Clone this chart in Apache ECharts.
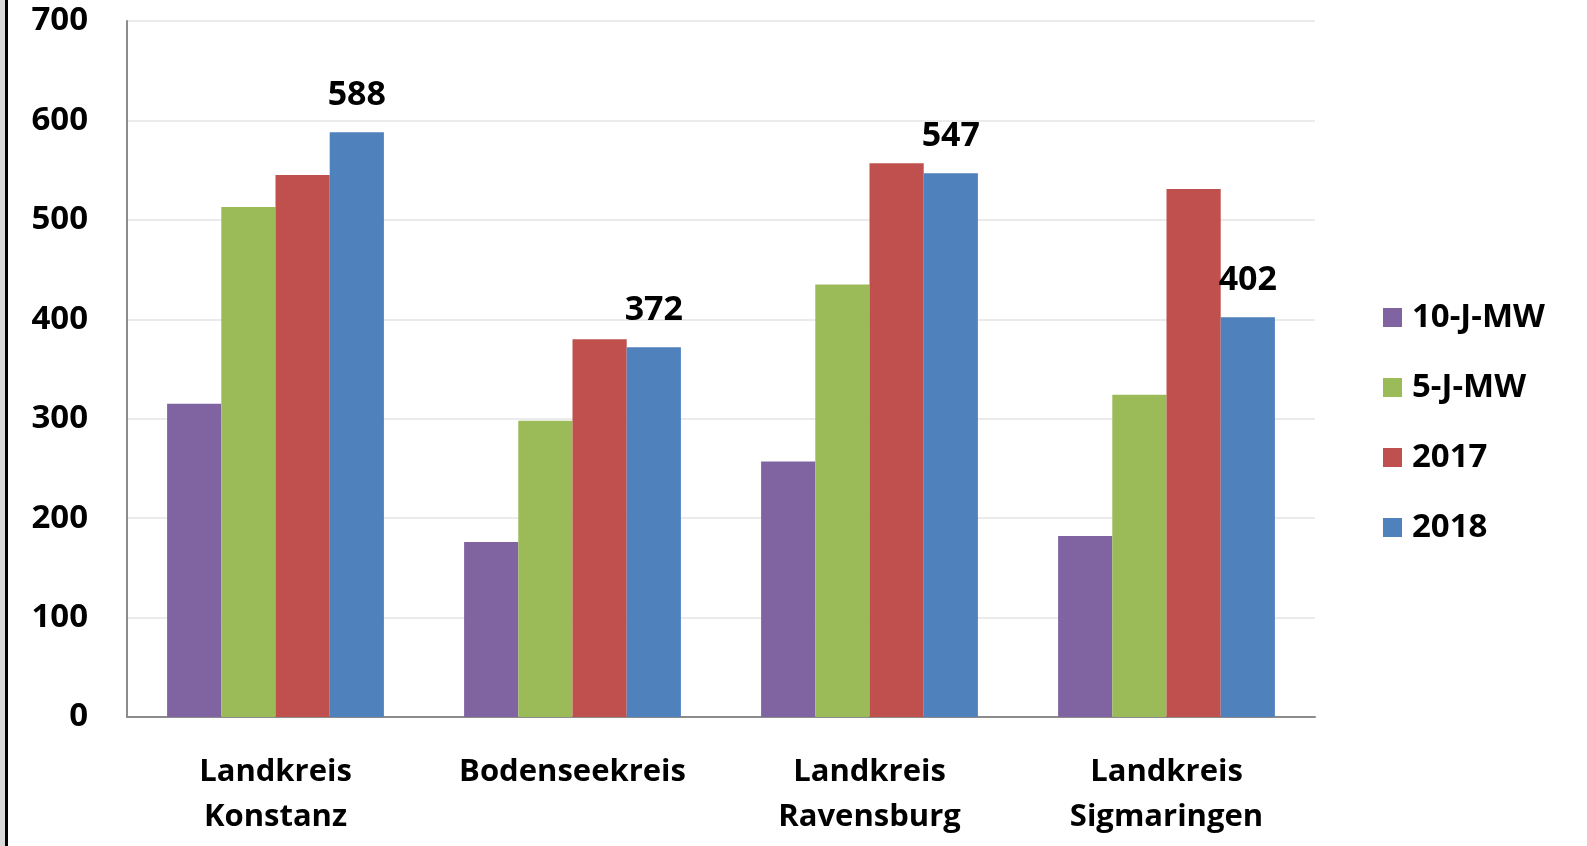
<!DOCTYPE html>
<html><head><meta charset="utf-8">
<script src="https://cdn.jsdelivr.net/npm/echarts@6/dist/echarts.min.js"></script>
<style>html,body{margin:0;padding:0;background:#fff}#c{width:1587px;height:846px}</style>
</head><body><div id="c"></div>
<script>
const categories = ['Landkreis\nKonstanz', 'Bodenseekreis', 'Landkreis\nRavensburg', 'Landkreis\nSigmaringen'];
const seriesNames = ['10-J-MW', '5-J-MW', '2017', '2018'];
const mw10 = [315, 176, 257, 182];
const mw5 = [513, 298, 435, 324];
const y2017 = [545, 380, 557, 531];
const y2018 = [588, 372, 547, 402];
const yTicks = [0, 100, 200, 300, 400, 500, 600, 700];
const colors = ['#8064A2', '#9BBB59', '#C0504D', '#4F81BD'];
const FONT = '"Open Sans", "Noto Sans", sans-serif';

const chart = echarts.init(document.getElementById('c'));
const values = [mw10, mw5, y2017, y2018];
chart.setOption({
  animation: false,
  grid: {left: 127, right: 272, top: 21, bottom: 129, containLabel: false},
  legend: {
    orient: 'vertical', left: 1378, top: 296, itemGap: 37, itemWidth: 19, itemHeight: 19,
    icon: 'rect',
    textStyle: {fontFamily: FONT, fontWeight: 'bold', fontSize: 33, color: '#000', padding: [0, 0, 0, 5]},
    data: seriesNames
  },
  xAxis: {
    type: 'category', data: categories,
    axisLine: {lineStyle: {color: '#8c8c8c', width: 2}},
    axisTick: {show: false},
    axisLabel: {margin: 33, fontFamily: FONT, fontWeight: 'bold', fontSize: 31, color: '#000', lineHeight: 45}
  },
  yAxis: {
    type: 'value', min: yTicks[0], max: yTicks[yTicks.length - 1], interval: 100,
    axisLine: {show: true, lineStyle: {color: '#8c8c8c', width: 2}},
    axisTick: {show: false},
    splitLine: {lineStyle: {color: '#ebebeb', width: 2}},
    axisLabel: {margin: 39, fontFamily: FONT, fontWeight: 'bold', fontSize: 33, color: '#000'}
  },
  series: seriesNames.map((n, i) => ({
    name: n, type: 'bar', data: values[i],
    barGap: '0%', barCategoryGap: '27%',
    itemStyle: {color: colors[i]},
    label: i === 3 ? {show: true, position: 'top', distance: 20, fontFamily: FONT, fontWeight: 'bold', fontSize: 34, color: '#000'} : {show: false}
  })),
  graphic: [
    {type: 'rect', shape: {x: 0, y: 0, width: 5, height: 846}, style: {fill: '#d9d9d9'}},
    {type: 'rect', shape: {x: 5, y: 0, width: 3, height: 846}, style: {fill: '#000'}}
  ]
});
</script></body></html>
